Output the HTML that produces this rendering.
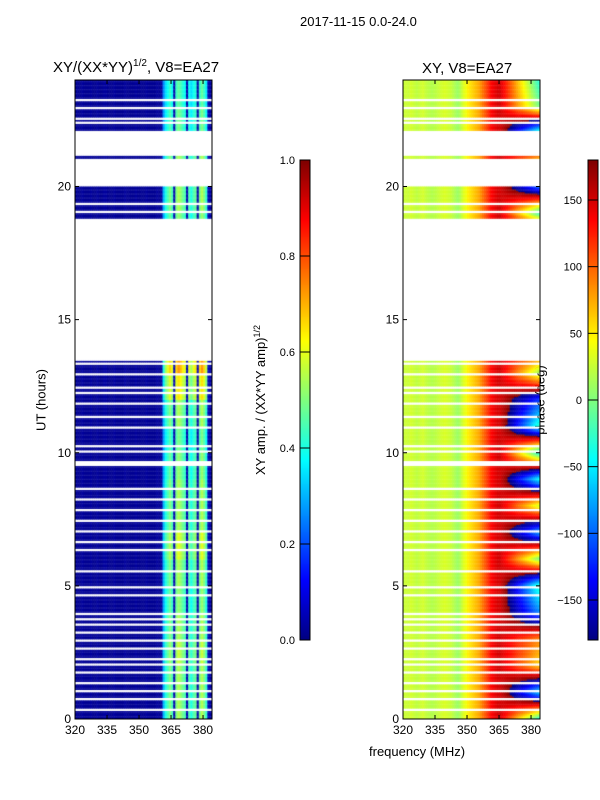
<!DOCTYPE html>
<html><head><meta charset="utf-8">
<style>
body{margin:0;background:#fff;}
#root{position:relative;width:600px;height:800px;font-family:"Liberation Sans",sans-serif;color:#000;overflow:hidden;}
.t{position:absolute;white-space:nowrap;}
canvas{position:absolute;}
</style></head>
<body>
<div id="root">
<div class="t" style="left:300px;top:14px;font-size:13px;">2017-11-15 0.0-24.0</div>
<div class="t" style="left:53px;top:58px;font-size:15px;">XY/(XX*YY)<sup style="font-size:10px">1/2</sup>, V8=EA27</div>
<div class="t" style="left:422px;top:60px;font-size:15px;">XY, V8=EA27</div>
<div class="t" style="left:41px;top:400px;font-size:13px;transform:translate(-50%,-50%) rotate(-90deg);">UT (hours)</div>
<div class="t" style="left:260px;top:400px;font-size:13px;transform:translate(-50%,-50%) rotate(-90deg);">XY amp. / (XX*YY amp)<sup style="font-size:9px">1/2</sup></div>
<div class="t" style="left:540px;top:400px;font-size:13px;transform:translate(-50%,-50%) rotate(-90deg);">phase (deg)</div>
<div class="t" style="left:369px;top:744px;font-size:13px;">frequency (MHz)</div>
<canvas id="c1" width="137" height="639" style="left:75px;top:80px"></canvas>
<canvas id="c2" width="137" height="639" style="left:403px;top:80px"></canvas>
<canvas id="cb1" width="10" height="480" style="left:300px;top:160px"></canvas>
<canvas id="cb2" width="10" height="480" style="left:588px;top:160px"></canvas>
<svg id="ov" width="600" height="800" style="position:absolute;left:0;top:0"></svg>
</div>
<script>
// ---- data ----
const validIntervals = [[0,13.45],[18.8,20.0],[21.05,21.15],[22.1,24]];
const gapHours = [23.2,22.9,22.5,22.35,19.3,19.0,13.3,12.9,12.4,12.2,11.8,11.3,10.9,10.2,10.0,9.6,9.5,8.6,8.2,7.8,7.4,7.0,6.6,6.3,5.5,4.9,4.6,3.9,3.7,3.5,3.2,2.9,2.6,2.2,2.0,1.7,1.3,1.0,0.7,0.3];
const freqs = []; for(let f=320;f<384;f++) freqs.push(f);
const colAmp = [0.02,0.02,0.02,0.03,0.02,0.02,0.02,0.03,0.02,0.02,0.03,0.02,0.02,0.03,0.03,0.02,0.02,0.02,0.03,0.02,0.02,0.02,0.02,0.03,0.02,0.02,0.02,0.02,0.03,0.02,0.02,0.02,0.02,0.03,0.02,0.02,0.02,0.02,0.03,0.02,0.03,
 0.3,0.4,0.45,0.5,0.45,0.05,0.5,0.55,0.52,0.48,0.45,0.05,0.45,0.4,0.45,0.48,0.05,0.5,0.55,0.5,0.42,0.05,0.03,0.02];
const hourAmp = [1.0,1.0,1.05,1.0,0.95,1.0,1.1,1.0,1.0,0.95,0.9,1.0,1.2,1.35,1,1,1,1,0.95,1.0,1.0,1.0,0.9,0.85];
const colPhase = [25,28,25,30,28,25,22,25,28,30,25,22,20,18,20,22,25,28,30,32,30,28,25,20,15,10,15,25,35,40,50,55,60,65,70,75,85,95,105,115,
 125,135,140,145,150,150,150,150,150,150,150,150,150,150,150,150,150,150,150,150,150,150,150,150];
const hourTwist = [-120,100,-60,-40,80,120,-100,90,-80,110,-130,120,60,-90,0,0,0,0,100,-120,80,-60,130,-100];
const uticks = [0,5,10,15,20];
const fticks = [320,335,350,365,380];
const ampTicks = [0.0,0.2,0.4,0.6,0.8,1.0];
const phaseTicks = [-150,-100,-50,0,50,100,150];
// ---- scales ----
const X0=75,X1=212,X2=403,Y0=719,YT=80;
const fx = f => (f-320)*137/64.2;
const hy = h => 639 - h*639/24;
function jet(v){v=Math.max(0,Math.min(1,v));
 const r=Math.max(0,Math.min(1,1.5-Math.abs(4*v-3))),g=Math.max(0,Math.min(1,1.5-Math.abs(4*v-2))),b=Math.max(0,Math.min(1,1.5-Math.abs(4*v-1)));
 return `rgb(${r*255|0},${g*255|0},${b*255|0})`;}
function valid(h){
 if(!validIntervals.some(iv=>h>=iv[0]&&h<iv[1])) return false;
 return !gapHours.some(g=>h>=g&&h<g+0.08);
}
const c1=document.getElementById('c1').getContext('2d');
const c2=document.getElementById('c2').getContext('2d');
document.getElementById('c1');
document.getElementById('c1');
document.getElementById('c2');
document.getElementById('c2');
const dh=0.05;
for(let i=0;i<24/dh;i++){
 const h=i*dh; if(!valid(h+dh/2)) continue;
 const y=hy(h+dh), hh=hy(h)-hy(h+dh);
 const hi=Math.floor(h), frac=h-hi;
 freqs.forEach((f,j)=>{
  const x=fx(f), w=fx(f+1)-fx(f)+0.5;
  const base=0.02, a=base+(colAmp[j]-base)*hourAmp[hi];
  c1.fillStyle=jet(a); c1.fillRect(x,y,w,hh+0.3);
  const tw=hourTwist[hi]*(1-frac)+hourTwist[(hi+1)%24]*frac;
  let p=colPhase[j]+(f>=365?tw*(f-365)/12:0);
  p=((p+180)%360+360)%360-180;
  c2.fillStyle=jet((p+180)/360); c2.fillRect(x,y,w,hh+0.3);
 });
}
// colorbars
['cb1','cb2'].forEach(id=>{const c=document.getElementById(id);const g=c.getContext('2d');
 
 
 for(let k=0;k<480;k++){g.fillStyle=jet(1-k/480);g.fillRect(0,k,10,1);}});
// overlay axes
const ov=document.getElementById('ov'),NS='http://www.w3.org/2000/svg';
function el(t,a,txt){const e=document.createElementNS(NS,t);for(const k in a)e.setAttribute(k,a[k]);if(txt!==undefined)e.textContent=txt;ov.appendChild(e);return e;}
[X0,X2].forEach((L,pi)=>{
 const r=el('rect',{x:L,y:YT,width:137,height:639,fill:'none',stroke:'#000','stroke-width':1});
 
 
 uticks.forEach(u=>{const y=YT+hy(u);
  el('line',{x1:L,x2:L+4,y1:y,y2:y,stroke:'#000'});el('line',{x1:L+137-4,x2:L+137,y1:y,y2:y,stroke:'#000'});
  const t=el('text',{x:L-4,y:y+4,'font-size':12,'text-anchor':'end','font-family':'Liberation Sans'},u);
  
  });
 fticks.forEach(f=>{const x=L+fx(f);
  el('line',{x1:x,x2:x,y1:Y0,y2:Y0-4,stroke:'#000'});el('line',{x1:x,x2:x,y1:YT,y2:YT+4,stroke:'#000'});
  const t=el('text',{x:x,y:Y0+15,'font-size':12,'text-anchor':'middle','font-family':'Liberation Sans'},f);
  
  });
});
el('rect',{x:300,y:160,width:10,height:480,fill:'none',stroke:'#000'});
el('rect',{x:588,y:160,width:10,height:480,fill:'none',stroke:'#000'});
ampTicks.forEach(v=>{const y=640-v*480;el('line',{x1:300,x2:310,y1:y,y2:y,stroke:'#000'});
 const t=el('text',{x:295,y:y+4,'font-size':11,'text-anchor':'end','font-family':'Liberation Sans'},v.toFixed(1));
 
 });
phaseTicks.forEach(v=>{const y=400-v*480/360;el('line',{x1:588,x2:598,y1:y,y2:y,stroke:'#000'});
 const t=el('text',{x:582,y:y+4,'font-size':11,'text-anchor':'end','font-family':'Liberation Sans'},v<0?'\u2212'+(-v):v);
 
 });
</script>
</body></html>
